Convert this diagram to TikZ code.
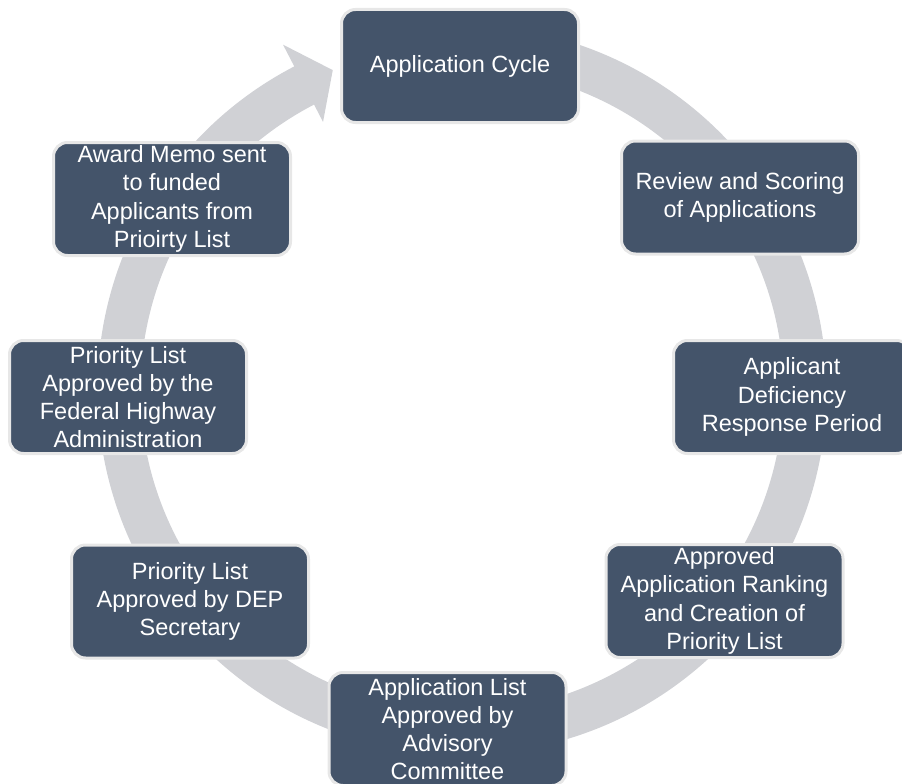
\documentclass[tikz,border=0pt]{standalone}
\usepackage{fontspec}
\setmainfont{Liberation Sans}
\usepackage{tikz}
\definecolor{boxblue}{RGB}{68,84,106}
\definecolor{boxrim}{RGB}{231,231,231}
\definecolor{ringgray}{RGB}{208,209,213}
\tikzstyle{stepbox} = [draw=boxrim, fill=boxblue, line width=3pt, text=white,
    rectangle, rounded corners=14pt, minimum width=237pt, minimum height=113pt,
    align=center, inner sep=2pt, font=\fontsize{23.5}{28.2}\selectfont]
\tikzstyle{ring} = [fill=ringgray]

\begin{document}
\begin{tikzpicture}[x=1pt,y=1pt]
    \useasboundingbox (0,0) rectangle (902,-784);
    \coordinate (cyc) at (462,-390);
    \fill[ring] ([shift={(cyc)}]100:364.5) arc[start angle=100, end angle=-242.6, radius=364.5]
        -- ([shift={(cyc)}]-242.6:389) -- ([shift={(cyc)}]-248:345)
        -- ([shift={(cyc)}]-242.6:302) -- ([shift={(cyc)}]-242.6:321.5)
        arc[start angle=-242.6, end angle=100, radius=321.5] -- cycle;
    \node [stepbox] (box1) at (460,-66) {Application Cycle};
    \node [stepbox] (box2) at (740,-197.5) {Review and Scoring\\of Applications};
    \node [stepbox] (box3) at (792,-397) {Applicant\\Deficiency\\Response Period};
    \node [stepbox] (box4) at (724.5,-601) {Approved\\Application Ranking\\and Creation of\\Priority List};
    \node [stepbox] (box5) at (447.5,-729) {Application List\\Approved by\\Advisory\\Committee};
    \node [stepbox] (box6) at (190,-601.5) {Priority List\\Approved by DEP\\Secretary};
    \node [stepbox] (box7) at (128,-397) {Priority List\\Approved by the\\Federal Highway\\Administration};
    \node [stepbox] (box8) at (172,-199) {Award Memo sent\\to funded\\Applicants from\\Prioirty List};
\end{tikzpicture}
\end{document}
